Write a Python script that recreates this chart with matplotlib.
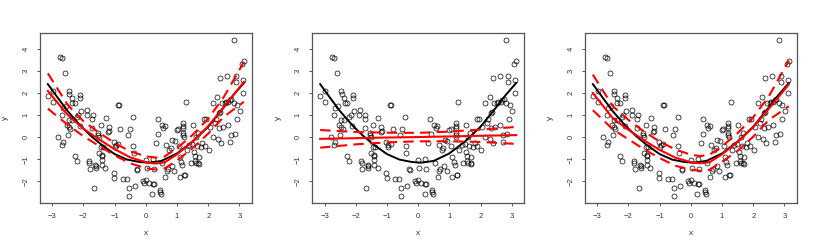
import numpy as np
import matplotlib
matplotlib.use("Agg")
import matplotlib.pyplot as plt

plt.rcParams['font.family'] = ['Liberation Sans', 'DejaVu Sans']

## Scatter data (same sample in all three panels)
x_pts = [-3.13, -2.97, -2.97, -2.80, -2.75, -2.68, -2.70, -2.66, -2.70, -2.66,
         -2.59, -2.56, -2.47, -2.45, -2.38, -2.35, -2.27, -2.52, -2.49, -2.47,
         -2.42, -2.46, -2.38, -2.27, -2.21, -2.20, -2.16, -2.12, -2.10, -2.10,
         -2.07, -1.87, -1.90, -1.82, -1.81, -1.80, -1.69, -1.71, -1.71, -1.66,
         -1.62, -1.60, -1.60, -1.54, -1.53, -1.50, -1.50, -1.45, -1.44, -1.42,
         -1.40, -1.40, -1.40, -1.37, -1.30, -1.28, -1.20, -1.17, -1.18, -1.02,
         -1.03, -1.01, -0.98, -0.95, -0.89, -0.86, -0.88, -0.82, -0.73, -0.61,
         -0.55, -0.55, -0.58, -0.52, -0.41, -0.40, -0.39, -0.35, -0.29, -0.27,
         -0.09, -0.06, 0.00, 0.00, 0.04, 0.10, 0.21, 0.23, 0.25, 0.25,
         0.23, 0.31, 0.38, 0.40, 0.44, 0.45, 0.48, 0.51, 0.56, 0.60,
         0.53, 0.62, 0.66, 0.68, 0.71, 0.75, 0.80, 0.83, 0.85, 0.91,
         0.94, 1.00, 1.04, 1.05, 1.09, 1.10, 1.14, 1.17, 1.23, 1.26,
         1.20, 1.20, 1.20, 1.20, 1.20, 1.21, 1.29, 1.31, 1.39, 1.44,
         1.49, 1.52, 1.53, 1.57, 1.60, 1.58, 1.61, 1.64, 1.66, 1.68,
         1.70, 1.70, 1.76, 1.81, 1.87, 1.94, 1.89, 2.01, 2.04, 2.14,
         2.15, 2.20, 2.25, 2.29, 2.30, 2.33, 2.36, 2.34, 2.39, 2.40,
         2.44, 2.47, 2.52, 2.56, 2.61, 2.62, 2.64, 2.69, 2.71, 2.72,
         2.74, 2.81, 2.83, 2.85, 2.89, 2.89, 2.91, 2.93, 3.01, 3.07,
         3.10, 3.11, 3.15]
y_pts = [1.85, 2.09, 1.58, 0.00, 3.62, 3.58, -0.36, -0.22, 1.00, 1.34,
         2.90, 1.43, 2.07, 1.94, 1.79, 1.56, 1.55, 0.54, 0.09, 0.44,
         0.36, 0.77, 0.77, -0.86, -1.10, 0.92, 1.02, 0.50, 1.79, 1.91,
         1.19, 1.25, 0.98, -1.10, -1.16, -1.43, 0.98, 0.81, 0.42, -2.29,
         -1.25, -1.30, -1.38, 0.17, 0.09, 0.00, -0.74, 0.57, -0.47, -0.86,
         -1.04, -0.80, -1.28, -0.44, -1.38, 0.87, 0.24, 0.27, 0.44, -0.24,
         -1.61, -1.86, -0.44, -0.35, 1.46, 1.47, -0.32, 0.35, -1.88, -1.88,
         -2.29, -2.69, 0.09, 0.36, 0.92, -0.41, -0.71, -2.20, -1.43, -1.47,
         -2.00, -2.09, -1.94, -1.04, -1.41, -2.09, -2.59, -2.13, -2.12, -1.44,
         -1.01, -0.29, 0.84, 0.12, -2.40, -2.48, -2.60, 0.57, 0.39, 0.50,
         -1.19, -1.83, -0.35, -1.52, -1.46, -0.60, -0.50, -1.29, -0.11, -1.52,
         -0.20, 0.32, 0.36, -0.41, -1.79, -0.89, -1.13, -1.28, -1.73, -1.73,
         0.62, 0.50, 0.41, 0.17, 0.09, 0.02, 1.61, -0.59, -0.36, -1.16,
         -0.33, 0.57, -0.66, -1.10, -1.19, -0.86, 0.02, -0.41, 0.17, -1.17,
         -1.20, -0.89, -0.44, -0.29, 0.81, 0.81, -0.41, -0.59, 0.47, 1.55,
         0.02, 0.66, 0.84, 1.82, -0.08, 1.07, 1.14, 0.42, 2.69, -0.29,
         1.53, 0.47, 1.55, 1.59, 2.75, 0.53, 1.59, 1.67, -0.23, 0.09,
         1.74, 4.42, 1.55, 0.12, 2.78, 2.50, 0.81, 1.47, 1.19, 3.32,
         2.00, 2.60, 3.43]

## True function (black)
x_true = [-3.14, -2.8, -2.5, -2.1, -1.75, -1.4, -1.0, -0.6, -0.2, 0.1,
          0.5, 1.0, 1.5, 2.0, 2.5, 2.8, 3.14]
y_true = [2.40, 1.74, 1.17, 0.52, 0.04, -0.37, -0.77, -1.02, -1.13, -1.16,
          -1.08, -0.74, -0.20, 0.47, 1.35, 1.90, 2.45]

## Panel 1 fit with band
x_fit = [-3.14, -2.5, -2.0, -1.5, -1.0, -0.5, 0.0, 0.3, 0.6, 1.0, 1.5, 2.0, 2.5, 3.14]
fit1 = [2.09, 1.00, 0.38, -0.10, -0.55, -0.92, -1.14, -1.20, -1.15, -0.78, -0.20, 0.50, 1.37, 2.50]
upper1 = [2.89, 1.45, 0.72, 0.20, -0.27, -0.65, -0.87, -0.93, -0.88, -0.50, 0.10, 0.84, 1.82, 3.40]
lower1 = [1.29, 0.55, 0.04, -0.40, -0.83, -1.19, -1.41, -1.47, -1.42, -1.06, -0.50, 0.16, 0.92, 1.60]

## Panel 2 linear fit with band
x_lin = [-3.14, -2.0, -1.0, 0.0, 1.0, 2.0, 3.14]
fit2 = [-0.08, -0.05, -0.02, 0.00, 0.03, 0.06, 0.09]
upper2 = [0.32, 0.23, 0.20, 0.19, 0.25, 0.34, 0.46]
lower2 = [-0.48, -0.33, -0.24, -0.19, -0.19, -0.22, -0.31]

## Panel 3 fit with band
fit3 = [2.00, 0.85, 0.33, -0.15, -0.58, -0.93, -1.14, -1.19, -1.14, -0.78, -0.22, 0.45, 1.29, 2.39]
upper3 = [2.83, 1.40, 0.78, 0.25, -0.20, -0.56, -0.80, -0.86, -0.80, -0.42, 0.18, 0.90, 1.85, 3.47]
lower3 = [1.22, 0.35, -0.10, -0.55, -0.95, -1.30, -1.48, -1.53, -1.48, -1.12, -0.62, 0.02, 0.78, 1.40]

panels = [
    (x_fit, fit1, upper1, lower1),
    (x_lin, fit2, upper2, lower2),
    (x_fit, fit3, upper3, lower3),
]

W, H = 817, 245
fig = plt.figure(figsize=(W / 100, H / 100), dpi=100)
lefts = [40, 312.3, 585]
ax_w, ax_top, ax_bot = 211.7, 33.3, 202.7

# R style axis range: data range + 4% each side
xr = max(x_true) - min(x_true)
yr = max(y_pts) - min(y_pts)
xlim = (min(x_true) - 0.04 * xr, max(x_true) + 0.04 * xr)
ylim = (min(y_pts) - 0.04 * yr, max(y_pts) + 0.04 * yr)

txt_col = '#333333'
frame_col = '#555555'

for left, (xf, fit, up, lo) in zip(lefts, panels):
    ax = fig.add_axes([left / W, 1 - ax_bot / H, ax_w / W, (ax_bot - ax_top) / H])
    ax.plot(x_pts, y_pts, 'o', mfc='none', mec='black', ms=3.6, mew=0.5)
    ax.plot(x_true, y_true, color='black', lw=1.4)
    ax.plot(xf, fit, color='red', lw=1.5)
    ax.plot(xf, up, color='red', lw=1.5, dashes=(5, 3))
    ax.plot(xf, lo, color='red', lw=1.5, dashes=(5, 3))
    ax.set_xlim(xlim)
    ax.set_ylim(ylim)
    ax.set_xticks(range(-3, 4))
    ax.set_yticks(range(-2, 5))
    ax.set_yticklabels([str(v).replace('-', '\u2212') for v in range(-2, 5)],
                       rotation=90, va='center')
    ax.tick_params(labelsize=5.5, length=2.5, width=0.7, pad=5,
                   colors=frame_col, labelcolor=txt_col)
    for sp in ax.spines.values():
        sp.set_color(frame_col)
        sp.set_linewidth(0.9)
    ax.set_xlabel('x', fontsize=6, color=txt_col)
    ax.set_ylabel('y', fontsize=6, color=txt_col)
    ax.xaxis.set_label_coords(0.5, -0.16)
    ax.yaxis.set_label_coords(-0.145, 0.5)

fig.savefig('out.png', dpi=100)
